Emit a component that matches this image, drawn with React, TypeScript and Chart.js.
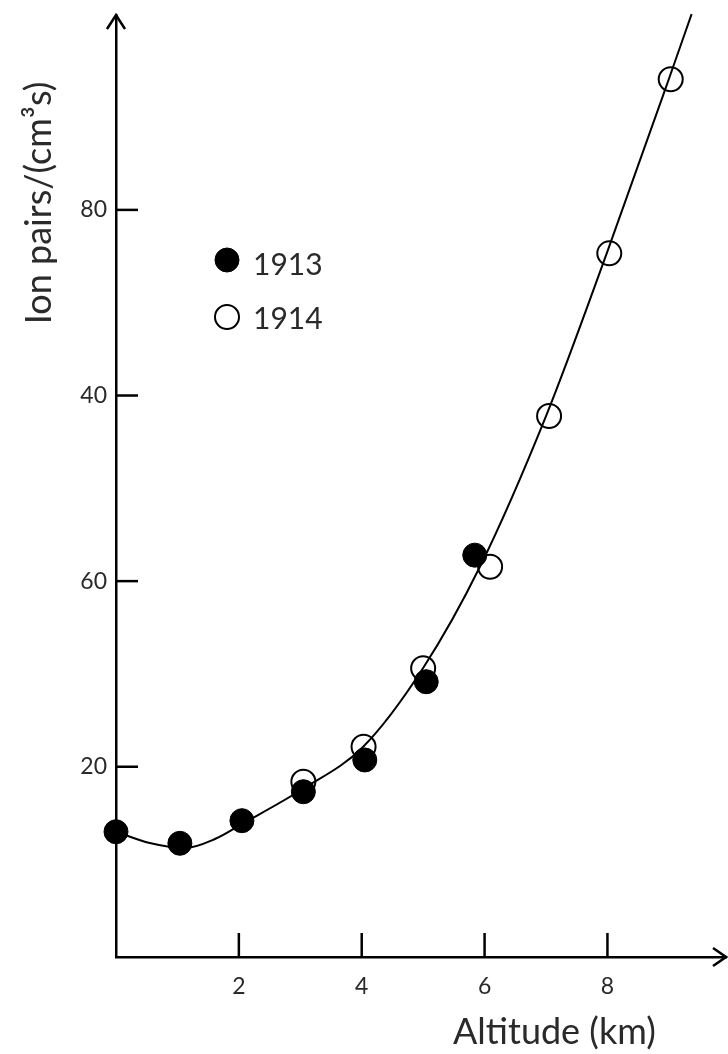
import React, { useEffect, useRef } from "react";
import { Chart, registerables } from "chart.js";

Chart.register(...registerables);

// ---- data ----
const curveX = [0, 0.55, 1.12, 1.61, 2.05, 3.04, 4.02, 5.0, 5.93, 7.0, 7.99, 9.0, 9.37];
const curveY = [13.0, 11.78, 11.24, 12.21, 13.83, 17.6, 22.13, 30.64, 41.63, 57.79, 75.35, 94.1, 101.1];

const x1913 = [0, 1.04, 2.05, 3.05, 4.05, 5.05, 5.84];
const y1913 = [13.0, 11.75, 14.19, 17.31, 20.73, 29.16, 42.8];

const x1914 = [3.05, 4.03, 5.0, 6.09, 7.05, 8.03, 9.03];
const y1914 = [18.39, 22.16, 30.61, 41.55, 57.79, 75.32, 94.07];

const xTickValues = [2, 4, 6, 8];
const xTickLabels = ["2", "4", "6", "8"];
const yTickValues = [20, 40, 60, 80];
const yTickLabels = ["20", "60", "40", "80"];

const seriesNames = ["1913", "1914"];
const xTitle = "Altitude (km)";
const yTitle = "Ion pairs/(cm³s)";

const FONT = "Lato, 'Open Sans', 'DejaVu Sans', sans-serif";
const TEXT = "#2a2a2a";

const decorPlugin = {
  id: "decor",
  afterDraw(chart: any) {
    const { ctx, chartArea } = chart;
    const { left, right, top, bottom } = chartArea;
    const xs = chart.scales.x;
    const ys = chart.scales.y;
    ctx.save();
    ctx.strokeStyle = "#000";
    ctx.lineWidth = 2.5;
    ctx.lineCap = "butt";
    // inner tick marks
    yTickValues.forEach((v) => {
      const py = ys.getPixelForValue(v);
      ctx.beginPath();
      ctx.moveTo(left, py);
      ctx.lineTo(left + 22, py);
      ctx.stroke();
    });
    xTickValues.forEach((v) => {
      const px = xs.getPixelForValue(v);
      ctx.beginPath();
      ctx.moveTo(px, bottom);
      ctx.lineTo(px, bottom - 24);
      ctx.stroke();
    });
    // arrow heads
    ctx.lineJoin = "miter";
    ctx.beginPath();
    ctx.moveTo(left - 9, top + 14);
    ctx.lineTo(left, top);
    ctx.lineTo(left + 9, top + 14);
    ctx.stroke();
    ctx.beginPath();
    ctx.moveTo(right - 13, bottom - 9);
    ctx.lineTo(right, bottom);
    ctx.lineTo(right - 13, bottom + 9);
    ctx.stroke();

    // axis titles
    ctx.fillStyle = TEXT;
    ctx.font = `36px ${FONT}`;
    ctx.textBaseline = "alphabetic";
    ctx.textAlign = "left";
    ctx.fillText(xTitle, 453, 1044);
    ctx.save();
    ctx.translate(51, 203);
    ctx.rotate(-Math.PI / 2);
    ctx.textAlign = "center";
    ctx.fillText(yTitle, 0, 0);
    ctx.restore();

    // legend
    const items = [
      { fill: "#000", lw: 1, cy: 260, ty: 275 },
      { fill: "#fff", lw: 2, cy: 317, ty: 329 },
    ];
    items.forEach((it, i) => {
      ctx.beginPath();
      ctx.arc(227, it.cy, 12, 0, Math.PI * 2);
      ctx.fillStyle = it.fill;
      ctx.fill();
      ctx.lineWidth = it.lw;
      ctx.strokeStyle = "#000";
      ctx.stroke();
      ctx.fillStyle = TEXT;
      ctx.font = `30px ${FONT}`;
      ctx.textAlign = "left";
      ctx.textBaseline = "alphabetic";
      ctx.fillText(seriesNames[i], 253, it.ty);
    });
    ctx.restore();
  },
};

const zeroPad = (s: any) => {
  s.paddingLeft = 0;
  s.paddingRight = 0;
  s.paddingTop = 0;
  s.paddingBottom = 0;
};

export default function App() {
  const ref = useRef<HTMLCanvasElement | null>(null);

  useEffect(() => {
    if (!ref.current) return;
    const chart = new Chart(ref.current, {
      type: "scatter",
      data: {
        datasets: [
          {
            label: "curve",
            data: curveX.map((x, i) => ({ x, y: curveY[i] })),
            showLine: true,
            borderColor: "#000",
            borderWidth: 2,
            pointRadius: 0,
            cubicInterpolationMode: "monotone",
            fill: false,
            clip: false,
            order: 0,
          } as any,
          {
            label: seriesNames[0],
            data: x1913.map((x, i) => ({ x, y: y1913[i] })),
            pointRadius: 12,
            backgroundColor: "#000",
            borderColor: "#000",
            borderWidth: 1,
            clip: false,
            order: 1,
          } as any,
          {
            label: seriesNames[1],
            data: x1914.map((x, i) => ({ x, y: y1914[i] })),
            pointRadius: 12,
            backgroundColor: "#fff",
            borderColor: "#000",
            borderWidth: 2,
            clip: false,
            order: 2,
          } as any,
        ],
      },
      options: {
        responsive: false,
        animation: false,
        events: [],
        layout: { autoPadding: false, padding: { top: 15, right: 2, bottom: 0, left: 0 } },
        plugins: {
          legend: { display: false },
          tooltip: { enabled: false },
          title: { display: false },
        },
        scales: {
          x: {
            type: "linear",
            min: 0,
            max: 9.93,
            afterBuildTicks: (s: any) => {
              s.ticks = xTickValues.map((v) => ({ value: v }));
            },
            afterFit: (s: any) => {
              s.height = 97;
              zeroPad(s);
            },
            grid: { display: false, drawTicks: false },
            border: { display: true, color: "#000", width: 2.5 },
            ticks: {
              padding: 16,
              color: TEXT,
              font: { family: FONT, size: 23 },
              maxRotation: 0,
              autoSkip: false,
              callback: (v: any) => {
                const i = xTickValues.indexOf(Number(v));
                return i >= 0 ? xTickLabels[i] : "";
              },
            },
          },
          y: {
            type: "linear",
            min: -0.5,
            max: 101,
            afterBuildTicks: (s: any) => {
              s.ticks = yTickValues.map((v) => ({ value: v }));
            },
            afterFit: (s: any) => {
              s.width = 116;
              zeroPad(s);
            },
            grid: { display: false, drawTicks: false },
            border: { display: true, color: "#000", width: 2.5 },
            ticks: {
              padding: 9,
              color: TEXT,
              font: { family: FONT, size: 23 },
              autoSkip: false,
              callback: (v: any) => {
                const i = yTickValues.indexOf(Number(v));
                return i >= 0 ? yTickLabels[i] : "";
              },
            },
          },
        },
      } as any,
      plugins: [decorPlugin],
    });
    return () => chart.destroy();
  }, []);

  return (
    <div style={{ position: "absolute", left: 0, top: 0, width: 728, height: 1054, background: "#fff" }}>
      <canvas ref={ref} width={728} height={1054} style={{ display: "block", width: 728, height: 1054 }} />
    </div>
  );
}
